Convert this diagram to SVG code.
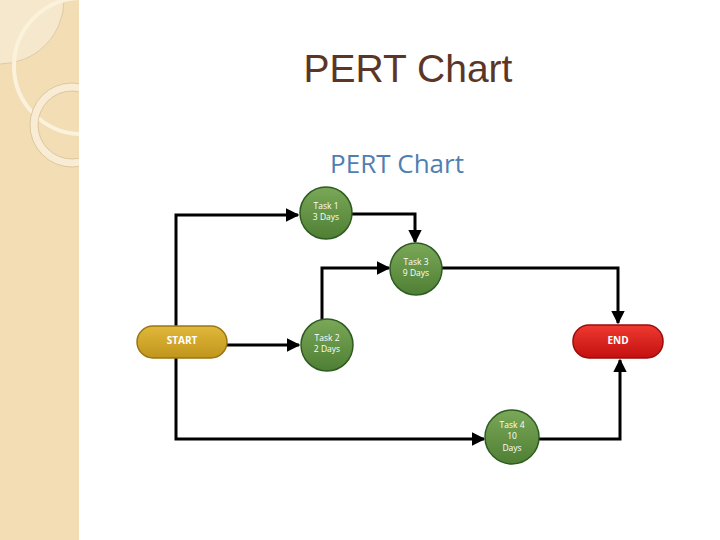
<svg xmlns="http://www.w3.org/2000/svg" width="720" height="540" viewBox="0 0 720 540">
<defs>
<marker id="ah" viewBox="0 0 10 10" refX="9" refY="5" markerWidth="4.5" markerHeight="4.5" orient="auto" markerUnits="strokeWidth"><path d="M0,0 L10,5 L0,10 z" fill="#000"/></marker>
<clipPath id="side"><rect x="0" y="0" width="79" height="540"/></clipPath>
<linearGradient id="g" x1="0" y1="0" x2="0" y2="1"><stop offset="0" stop-color="#7aa858"/><stop offset="1" stop-color="#4f7f34"/></linearGradient>
<linearGradient id="y" x1="0" y1="0" x2="0" y2="1"><stop offset="0" stop-color="#e0b83a"/><stop offset="1" stop-color="#c1951c"/></linearGradient>
<linearGradient id="r" x1="0" y1="0" x2="0" y2="1"><stop offset="0" stop-color="#ee3a30"/><stop offset="1" stop-color="#c41010"/></linearGradient>
</defs>
<style>
.t{font-family:"Open Sans","Liberation Sans",sans-serif;font-size:8.5px;fill:#fff;text-anchor:middle}
.b{font-family:"Open Sans","Liberation Sans",sans-serif;font-size:10px;font-weight:bold;fill:#fff;text-anchor:middle}
.c{stroke:#2f5a22;stroke-width:1.5;fill:url(#g)}
.w{fill:none;stroke:#000;stroke-width:3}
</style>
<rect width="720" height="540" fill="#fff"/>
<g id="sidebar" clip-path="url(#side)">
<rect x="0" y="0" width="79" height="540" fill="#f2ddb4"/>
<circle cx="0" cy="0" r="64" fill="#f6e8cc" stroke="#d9c39a" stroke-width="0.8"/>
<circle cx="82" cy="66" r="68" fill="none" stroke="#fbf2dc" stroke-width="4"/>
<circle cx="72" cy="125" r="38" fill="none" stroke="#f8ecd4" stroke-width="8"/>
<circle cx="72" cy="125" r="42" fill="none" stroke="#d6bf94" stroke-width="0.8"/>
<circle cx="72" cy="125" r="34" fill="none" stroke="#d6bf94" stroke-width="0.8"/>
</g>
<text x="408" y="82" font-family="Liberation Sans,sans-serif" font-size="39" fill="#5b3626" text-anchor="middle">PERT Chart</text>
<text x="397" y="173" font-family="Open Sans,Liberation Sans,sans-serif" font-size="26" fill="#4f7fb0" text-anchor="middle">PERT Chart</text>
<g id="connectors">
<path class="w" d="M176,326 V215 H298" marker-end="url(#ah)"/>
<path class="w" d="M352,214 H415 V242" marker-end="url(#ah)"/>
<path class="w" d="M322,320 V268 H389" marker-end="url(#ah)"/>
<path class="w" d="M442,268 H618 V323" marker-end="url(#ah)"/>
<path class="w" d="M227,345 H299" marker-end="url(#ah)"/>
<path class="w" d="M176,358 V439 H484" marker-end="url(#ah)"/>
<path class="w" d="M539,439 H620 V360" marker-end="url(#ah)"/>
</g>
<g id="start"><rect x="137" y="326" width="90" height="32" rx="16" fill="url(#y)" stroke="#9a7512" stroke-width="1.5"/><text class="b" x="182" y="344">START</text></g>
<g id="end"><rect x="573" y="325" width="90" height="33" rx="16" fill="url(#r)" stroke="#9a0c0c" stroke-width="1.5"/><text class="b" x="618" y="344">END</text></g>
<g id="task1"><circle class="c" cx="326" cy="213" r="26"/><text class="t" x="326" y="209">Task 1</text><text class="t" x="326" y="220">3 Days</text></g>
<g id="task3"><circle class="c" cx="416" cy="269" r="26"/><text class="t" x="416" y="265">Task 3</text><text class="t" x="416" y="276">9 Days</text></g>
<g id="task2"><circle class="c" cx="327" cy="345" r="26"/><text class="t" x="327" y="341">Task 2</text><text class="t" x="327" y="352">2 Days</text></g>
<g id="task4"><circle class="c" cx="512" cy="437" r="27"/><text class="t" x="512" y="428">Task 4</text><text class="t" x="512" y="439">10</text><text class="t" x="512" y="451">Days</text></g>
</svg>
